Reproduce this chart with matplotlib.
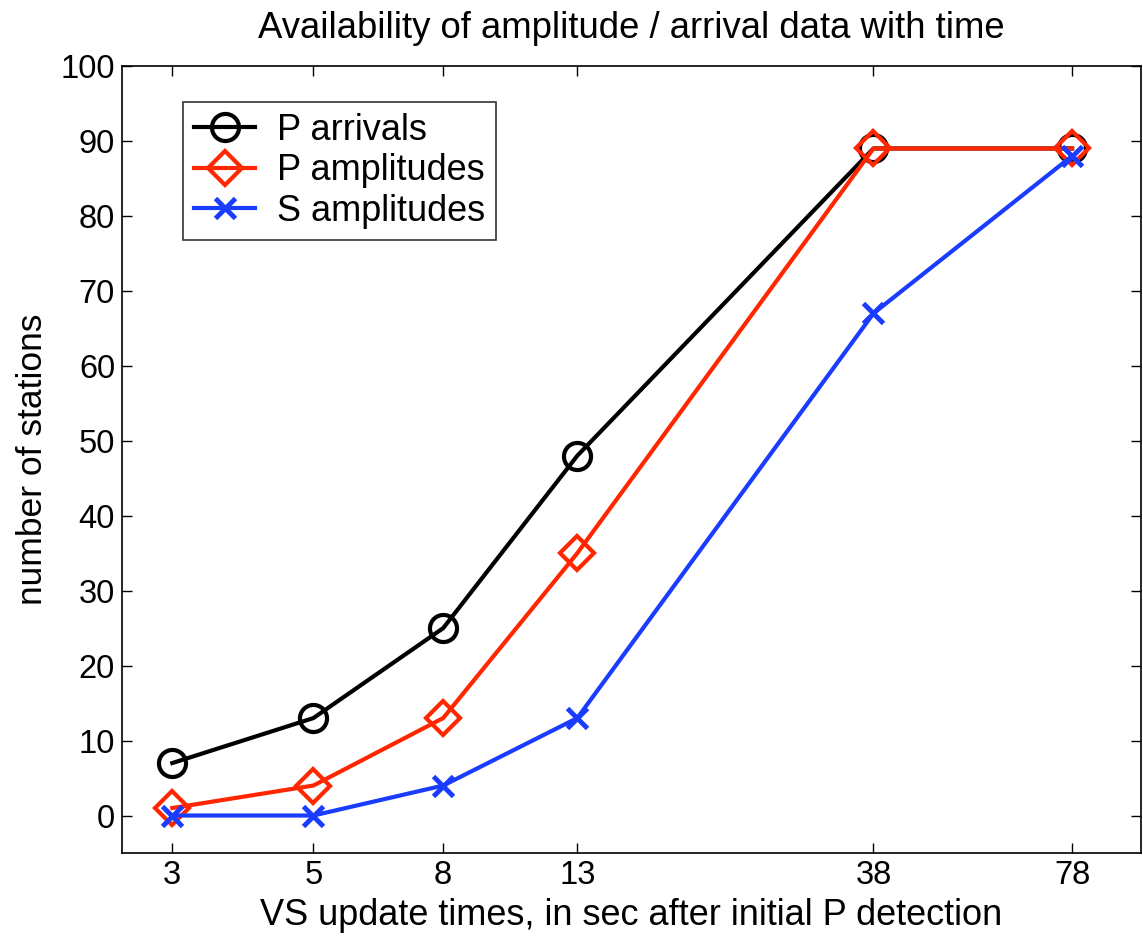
import matplotlib
matplotlib.use("Agg")
import matplotlib.pyplot as plt
from matplotlib.ticker import FixedLocator, FixedFormatter, NullLocator

plt.rcParams['font.family'] = ['Liberation Sans', 'DejaVu Sans']

times = [3, 5, 8, 13, 38, 78]
p_arrivals = [7, 13, 25, 48, 89, 89]
p_amplitudes = [1, 4, 13, 35, 89, 89]
s_amplitudes = [0, 0, 4, 13, 67, 88]
tick_labels = ['3', '5', '8', '13', '38', '78']

fig = plt.figure(figsize=(11.43, 9.39), dpi=100)
ax = fig.add_axes([0.1067, 0.0916, 0.8913, 0.8381])

ax.plot(times, p_arrivals, color='black', lw=3, marker='o', ms=19.5, mfc='none', mew=3, label='P arrivals')
ax.plot(times, p_amplitudes, color='#FF2600', lw=3, marker='D', ms=17, mfc='none', mew=3, label='P amplitudes')
ax.plot(times, s_amplitudes, color='#1A3CFF', lw=3, marker='x', ms=14, mew=3.5, label='S amplitudes')

ax.set_xscale('log')
ax.set_xlim(2.5, 100)
ax.set_ylim(-5, 100)
ax.xaxis.set_major_locator(FixedLocator(times))
ax.xaxis.set_major_formatter(FixedFormatter(tick_labels))
ax.xaxis.set_minor_locator(NullLocator())
ax.set_yticks(range(0, 101, 10))

ax.tick_params(direction='in', top=True, right=True, labelsize=23.5, length=7, width=1, pad=5)
for s in ax.spines.values():
    s.set_linewidth(1.2)

ax.set_title('Availability of amplitude / arrival data with time', fontsize=26.3, pad=20)
ax.set_xlabel('VS update times, in sec after initial P detection', fontsize=26, labelpad=5)
ax.set_ylabel('number of stations', fontsize=25.5, labelpad=8)

leg = ax.legend(loc='upper left', bbox_to_anchor=(0.0599, 0.954), borderaxespad=0, fontsize=26,
                frameon=True, fancybox=False, edgecolor='black', handlelength=1.7,
                borderpad=0.3, labelspacing=0.15, handletextpad=0.6)
leg.get_frame().set_linewidth(1.2)

fig.savefig('out.png', dpi=100)
